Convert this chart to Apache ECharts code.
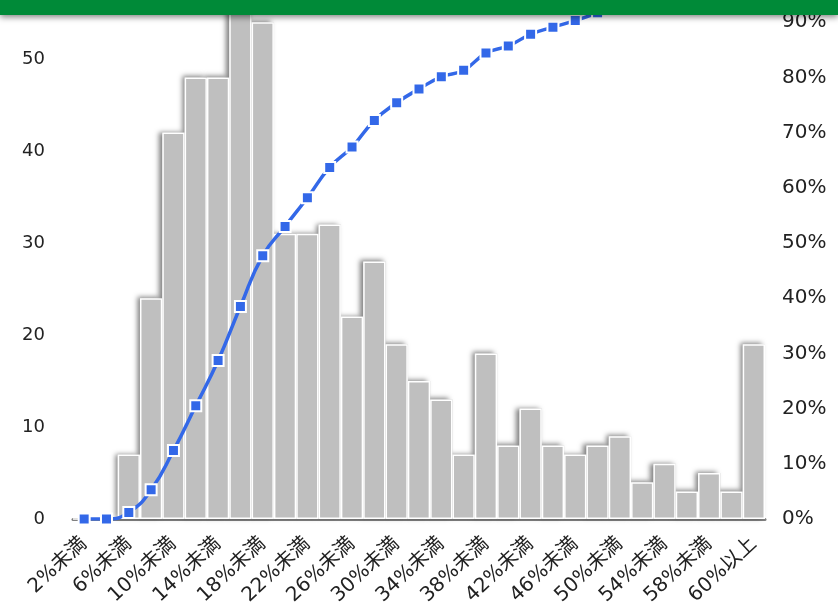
<!DOCTYPE html>
<html><head><meta charset="utf-8">
<script src="https://cdn.jsdelivr.net/npm/echarts@6/dist/echarts.min.js"></script>
<style>html,body{margin:0;padding:0;background:#fff}#c{width:838px;height:603px}</style>
</head><body><div id="c"></div>
<script>
const categories = ['2%未満','4%未満','6%未満','8%未満','10%未満','12%未満','14%未満','16%未満','18%未満','20%未満','22%未満','24%未満','26%未満','28%未満','30%未満','32%未満','34%未満','36%未満','38%未満','40%未満','42%未満','44%未満','46%未満','48%未満','50%未満','52%未満','54%未満','56%未満','58%未満','60%未満','60%以上'];
const counts = [0,0,7,24,42,48,48,58,54,31,31,32,22,28,19,15,13,7,18,8,12,8,7,8,9,4,6,3,5,3,19];
const cumulativePct = [0,0,1.2,5.3,12.4,20.5,28.7,38.5,47.7,53.0,58.2,63.7,67.4,72.2,75.4,77.9,80.1,81.3,84.4,85.7,87.8,89.1,90.3,91.7,93.2,93.9,94.9,95.4,96.3,96.8,100];
const leftTicks = {min:0, max:60, interval:10};
const rightTicks = {min:0, max:100, interval:10};

const font = '"DejaVu Sans","Noto Sans CJK JP",sans-serif';
const chart = echarts.init(document.getElementById('c'));
chart.setOption({
  animation:false,
  backgroundColor:'#fff',
  grid:{left:73, right:73, top:-33, bottom:84, containLabel:false, outerBoundsMode:'none'},
  xAxis:{type:'category', data:categories, boundaryGap:true,
    axisLine:{lineStyle:{color:'#808080', width:3}},
    axisTick:{show:false},
    axisLabel:{interval:1, rotate:43, fontSize:20, color:'#222', fontFamily:font, margin:22}},
  yAxis:[
    {type:'value', min:leftTicks.min, max:leftTicks.max, interval:leftTicks.interval,
     axisLine:{show:false}, axisTick:{show:false}, splitLine:{show:false},
     axisLabel:{fontSize:18, color:'#222', fontFamily:font, margin:28}},
    {type:'value', min:rightTicks.min, max:rightTicks.max, interval:rightTicks.interval,
     axisLine:{show:false}, axisTick:{show:false}, splitLine:{show:false},
     axisLabel:{fontSize:20, color:'#222', fontFamily:font, margin:17, formatter:'{value}%'}}
  ],
  series:[
    {type:'bar', data:counts, yAxisIndex:0, barCategoryGap:0, barGap:'-100%', z:1, silent:true,
     itemStyle:{color:'#bfbfbf',
       shadowColor:'rgba(0,0,0,0.5)', shadowBlur:5, shadowOffsetX:-3, shadowOffsetY:-1}},
    {type:'bar', data:counts, yAxisIndex:0, barCategoryGap:0, barGap:'-100%', z:2,
     itemStyle:{color:'#bfbfbf', borderColor:'#fff', borderWidth:1.5}},
    {type:'line', data:cumulativePct, yAxisIndex:1, smooth:true, z:5,
     symbol:'rect', symbolSize:11, showAllSymbol:true,
     lineStyle:{color:'#3368e8', width:3.5},
     itemStyle:{color:'#3368e8', borderColor:'#fff', borderWidth:2}}
  ],
  graphic:[
    {type:'rect', left:0, top:0, z:100, shape:{width:838, height:15},
     style:{fill:'#008a38', shadowColor:'rgba(0,0,0,0.5)', shadowBlur:6, shadowOffsetY:2}}
  ]
});
</script></body></html>
